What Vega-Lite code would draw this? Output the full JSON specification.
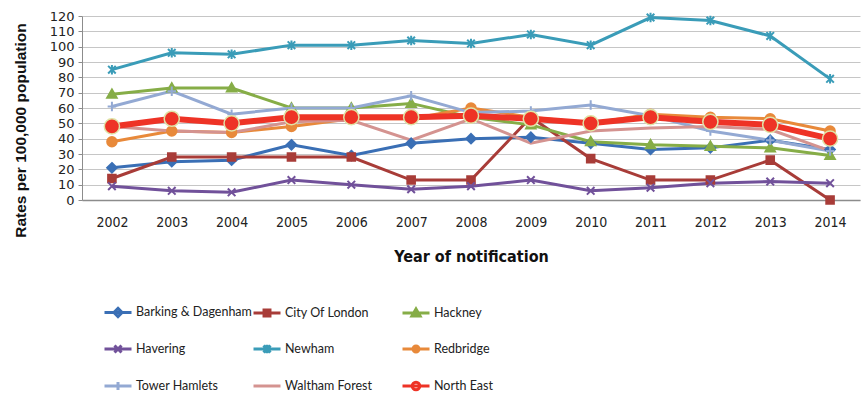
{
  "$schema": "https://vega.github.io/schema/vega-lite/v6.json",
  "width": 778,
  "height": 184,
  "autosize": {"type": "none"},
  "padding": {"left": 82, "top": 16, "right": 4, "bottom": 194},
  "background": "white",
  "config": {"view": {"stroke": null}},
  "data": {
    "values": [
      {"year": 2002, "area": "Barking & Dagenham", "rate": 21},
      {"year": 2003, "area": "Barking & Dagenham", "rate": 25},
      {"year": 2004, "area": "Barking & Dagenham", "rate": 26},
      {"year": 2005, "area": "Barking & Dagenham", "rate": 36},
      {"year": 2006, "area": "Barking & Dagenham", "rate": 29},
      {"year": 2007, "area": "Barking & Dagenham", "rate": 37},
      {"year": 2008, "area": "Barking & Dagenham", "rate": 40},
      {"year": 2009, "area": "Barking & Dagenham", "rate": 41},
      {"year": 2010, "area": "Barking & Dagenham", "rate": 37},
      {"year": 2011, "area": "Barking & Dagenham", "rate": 33},
      {"year": 2012, "area": "Barking & Dagenham", "rate": 34},
      {"year": 2013, "area": "Barking & Dagenham", "rate": 39},
      {"year": 2014, "area": "Barking & Dagenham", "rate": 33},
      {"year": 2002, "area": "City Of London", "rate": 14},
      {"year": 2003, "area": "City Of London", "rate": 28},
      {"year": 2004, "area": "City Of London", "rate": 28},
      {"year": 2005, "area": "City Of London", "rate": 28},
      {"year": 2006, "area": "City Of London", "rate": 28},
      {"year": 2007, "area": "City Of London", "rate": 13},
      {"year": 2008, "area": "City Of London", "rate": 13},
      {"year": 2009, "area": "City Of London", "rate": 54},
      {"year": 2010, "area": "City Of London", "rate": 27},
      {"year": 2011, "area": "City Of London", "rate": 13},
      {"year": 2012, "area": "City Of London", "rate": 13},
      {"year": 2013, "area": "City Of London", "rate": 26},
      {"year": 2014, "area": "City Of London", "rate": 0},
      {"year": 2002, "area": "Hackney", "rate": 69},
      {"year": 2003, "area": "Hackney", "rate": 73},
      {"year": 2004, "area": "Hackney", "rate": 73},
      {"year": 2005, "area": "Hackney", "rate": 60},
      {"year": 2006, "area": "Hackney", "rate": 60},
      {"year": 2007, "area": "Hackney", "rate": 63},
      {"year": 2008, "area": "Hackney", "rate": 54},
      {"year": 2009, "area": "Hackney", "rate": 49},
      {"year": 2010, "area": "Hackney", "rate": 38},
      {"year": 2011, "area": "Hackney", "rate": 36},
      {"year": 2012, "area": "Hackney", "rate": 35},
      {"year": 2013, "area": "Hackney", "rate": 34},
      {"year": 2014, "area": "Hackney", "rate": 29},
      {"year": 2002, "area": "Havering", "rate": 9},
      {"year": 2003, "area": "Havering", "rate": 6},
      {"year": 2004, "area": "Havering", "rate": 5},
      {"year": 2005, "area": "Havering", "rate": 13},
      {"year": 2006, "area": "Havering", "rate": 10},
      {"year": 2007, "area": "Havering", "rate": 7},
      {"year": 2008, "area": "Havering", "rate": 9},
      {"year": 2009, "area": "Havering", "rate": 13},
      {"year": 2010, "area": "Havering", "rate": 6},
      {"year": 2011, "area": "Havering", "rate": 8},
      {"year": 2012, "area": "Havering", "rate": 11},
      {"year": 2013, "area": "Havering", "rate": 12},
      {"year": 2014, "area": "Havering", "rate": 11},
      {"year": 2002, "area": "Newham", "rate": 85},
      {"year": 2003, "area": "Newham", "rate": 96},
      {"year": 2004, "area": "Newham", "rate": 95},
      {"year": 2005, "area": "Newham", "rate": 101},
      {"year": 2006, "area": "Newham", "rate": 101},
      {"year": 2007, "area": "Newham", "rate": 104},
      {"year": 2008, "area": "Newham", "rate": 102},
      {"year": 2009, "area": "Newham", "rate": 108},
      {"year": 2010, "area": "Newham", "rate": 101},
      {"year": 2011, "area": "Newham", "rate": 119},
      {"year": 2012, "area": "Newham", "rate": 117},
      {"year": 2013, "area": "Newham", "rate": 107},
      {"year": 2014, "area": "Newham", "rate": 79},
      {"year": 2002, "area": "Redbridge", "rate": 38},
      {"year": 2003, "area": "Redbridge", "rate": 45},
      {"year": 2004, "area": "Redbridge", "rate": 44},
      {"year": 2005, "area": "Redbridge", "rate": 48},
      {"year": 2006, "area": "Redbridge", "rate": 53},
      {"year": 2007, "area": "Redbridge", "rate": 53},
      {"year": 2008, "area": "Redbridge", "rate": 60},
      {"year": 2009, "area": "Redbridge", "rate": 54},
      {"year": 2010, "area": "Redbridge", "rate": 50},
      {"year": 2011, "area": "Redbridge", "rate": 56},
      {"year": 2012, "area": "Redbridge", "rate": 54},
      {"year": 2013, "area": "Redbridge", "rate": 53},
      {"year": 2014, "area": "Redbridge", "rate": 45},
      {"year": 2002, "area": "Tower Hamlets", "rate": 61},
      {"year": 2003, "area": "Tower Hamlets", "rate": 71},
      {"year": 2004, "area": "Tower Hamlets", "rate": 56},
      {"year": 2005, "area": "Tower Hamlets", "rate": 60},
      {"year": 2006, "area": "Tower Hamlets", "rate": 60},
      {"year": 2007, "area": "Tower Hamlets", "rate": 68},
      {"year": 2008, "area": "Tower Hamlets", "rate": 57},
      {"year": 2009, "area": "Tower Hamlets", "rate": 58},
      {"year": 2010, "area": "Tower Hamlets", "rate": 62},
      {"year": 2011, "area": "Tower Hamlets", "rate": 55},
      {"year": 2012, "area": "Tower Hamlets", "rate": 45},
      {"year": 2013, "area": "Tower Hamlets", "rate": 39},
      {"year": 2014, "area": "Tower Hamlets", "rate": 32},
      {"year": 2002, "area": "Waltham Forest", "rate": 48},
      {"year": 2003, "area": "Waltham Forest", "rate": 45},
      {"year": 2004, "area": "Waltham Forest", "rate": 44},
      {"year": 2005, "area": "Waltham Forest", "rate": 51},
      {"year": 2006, "area": "Waltham Forest", "rate": 52},
      {"year": 2007, "area": "Waltham Forest", "rate": 39},
      {"year": 2008, "area": "Waltham Forest", "rate": 53},
      {"year": 2009, "area": "Waltham Forest", "rate": 37},
      {"year": 2010, "area": "Waltham Forest", "rate": 45},
      {"year": 2011, "area": "Waltham Forest", "rate": 47},
      {"year": 2012, "area": "Waltham Forest", "rate": 48},
      {"year": 2013, "area": "Waltham Forest", "rate": 46},
      {"year": 2014, "area": "Waltham Forest", "rate": 32},
      {"year": 2002, "area": "North East", "rate": 48},
      {"year": 2003, "area": "North East", "rate": 53},
      {"year": 2004, "area": "North East", "rate": 50},
      {"year": 2005, "area": "North East", "rate": 54},
      {"year": 2006, "area": "North East", "rate": 54},
      {"year": 2007, "area": "North East", "rate": 54},
      {"year": 2008, "area": "North East", "rate": 55},
      {"year": 2009, "area": "North East", "rate": 53},
      {"year": 2010, "area": "North East", "rate": 50},
      {"year": 2011, "area": "North East", "rate": 54},
      {"year": 2012, "area": "North East", "rate": 51},
      {"year": 2013, "area": "North East", "rate": 49},
      {"year": 2014, "area": "North East", "rate": 40}
    ]
  },
  "encoding": {
    "x": {
      "field": "year",
      "type": "ordinal",
      "scale": {"type": "point", "padding": 0.5},
      "axis": {
        "title": "Year of notification",
        "labelAngle": 0,
        "ticks": false,
        "grid": false,
        "domainColor": "#8c8c8c",
        "domainWidth": 1.5,
        "labelFont": "DejaVu Sans Condensed",
        "labelFontSize": 14,
        "labelColor": "#222222",
        "labelPadding": 15,
        "titleFont": "DejaVu Sans Condensed",
        "titleFontSize": 16,
        "titleFontWeight": "bold",
        "titleColor": "#111111",
        "titleY": 56,
        "titleBaseline": "middle"
      }
    },
    "y": {
      "field": "rate",
      "type": "quantitative",
      "scale": {"domain": [0, 120], "nice": false},
      "axis": {
        "title": "Rates per 100,000 population",
        "values": [0, 10, 20, 30, 40, 50, 60, 70, 80, 90, 100, 110, 120],
        "grid": true,
        "gridColor": "#c6c6c6",
        "gridWidth": 1,
        "domainColor": "#8c8c8c",
        "tickColor": "#8c8c8c",
        "tickSize": 4,
        "labelFont": "DejaVu Sans",
        "labelFontSize": 13,
        "labelColor": "#222222",
        "labelPadding": 4,
        "titleFont": "Liberation Sans",
        "titleFontSize": 15.5,
        "titleFontWeight": "bold",
        "titleColor": "#111111",
        "titleAngle": -90,
        "titleX": -62,
        "titleY": 114,
        "titleAlign": "center",
        "titleBaseline": "middle"
      }
    }
  },
  "resolve": {"scale": {"color": "independent", "shape": "independent", "fill": "independent"}},
  "layer": [
    {
      "transform": [{"filter": "datum.area !== 'North East'"}],
      "mark": {"type": "line", "strokeWidth": 3},
      "encoding": {
        "color": {
          "field": "area",
          "type": "nominal",
          "legend": null,
          "scale": {
            "domain": ["Barking & Dagenham", "City Of London", "Hackney", "Havering", "Newham", "Redbridge", "Tower Hamlets", "Waltham Forest", "North East"],
            "range": ["#3a6fb5", "#a83c38", "#86ad47", "#71519a", "#3a9cb8", "#e8893a", "#93a9d3", "#d49390", "#ee3326"]
          }
        }
      }
    },
    {
      "transform": [{"filter": "datum.area !== 'North East'"}],
      "mark": {"type": "point", "filled": false, "strokeWidth": 2, "size": 90, "opacity": 1},
      "encoding": {
        "color": {
          "field": "area",
          "type": "nominal",
          "legend": null,
          "scale": {
            "domain": ["Barking & Dagenham", "City Of London", "Hackney", "Havering", "Newham", "Redbridge", "Tower Hamlets", "Waltham Forest", "North East"],
            "range": ["#3a6fb5", "#a83c38", "#86ad47", "#71519a", "#3a9cb8", "#e8893a", "#93a9d3", "#d49390", "#ee3326"]
          }
        },
        "fill": {
          "field": "area",
          "type": "nominal",
          "legend": null,
          "scale": {
            "domain": ["Barking & Dagenham", "City Of London", "Hackney", "Havering", "Newham", "Redbridge", "Tower Hamlets", "Waltham Forest", "North East"],
            "range": ["#3a6fb5", "#a83c38", "#86ad47", "#71519a", "#3a9cb8", "#e8893a", "#93a9d3", "#d49390", "#ee3326"]
          }
        },
        "shape": {
          "field": "area",
          "type": "nominal",
          "legend": null,
          "scale": {
            "domain": ["Barking & Dagenham", "City Of London", "Hackney", "Havering", "Newham", "Redbridge", "Tower Hamlets", "Waltham Forest", "North East"],
            "range": [
              "M0,-1L1,0L0,1L-1,0Z",
              "M-0.8,-0.8H0.8V0.8H-0.8Z",
              "M0,-1L1,0.75H-1Z",
              "M-0.8,-0.8L0.8,0.8M-0.8,0.8L0.8,-0.8",
              "M-0.8,-0.8L0.8,0.8M-0.8,0.8L0.8,-0.8M0,-1V1",
              "circle",
              "M-0.9,0H0.9M0,-1V1",
              "M0,0",
              "circle"
            ]
          }
        }
      }
    },
    {
      "transform": [{"filter": "datum.area === 'North East'"}],
      "mark": {"type": "line", "strokeWidth": 6, "color": "#ee3326"},
      "encoding": {}
    },
    {
      "transform": [{"filter": "datum.area === 'North East'"}],
      "mark": {"type": "point", "shape": "circle", "size": 230, "filled": true, "fill": "#ee3326", "stroke": "#dfe3a6", "strokeWidth": 1.5, "opacity": 1},
      "encoding": {}
    },
    {
      "mark": {"type": "point", "filled": false, "opacity": 0, "strokeWidth": 3, "size": 729},
      "encoding": {
        "color": {
          "field": "area",
          "type": "nominal",
          "scale": {
            "domain": ["Barking & Dagenham", "City Of London", "Hackney", "Havering", "Newham", "Redbridge", "Tower Hamlets", "Waltham Forest", "North East"],
            "range": ["#3a6fb5", "#a83c38", "#86ad47", "#71519a", "#3a9cb8", "#e8893a", "#93a9d3", "#d49390", "#ee3326"]
          },
          "legend": {
            "title": null,
            "orient": "none",
            "direction": "horizontal",
            "legendX": 21,
            "legendY": 281,
            "columns": 3,
            "gridAlign": "all",
            "columnPadding": -7,
            "rowPadding": 11,
            "padding": 0,
            "symbolSize": 729,
            "symbolStrokeWidth": 3,
            "symbolOpacity": 1,
            "labelFont": "Lato",
            "labelFontSize": 12.5,
            "labelColor": "#222222",
            "labelOffset": 3,
            "labelLimit": 300
          }
        },
        "shape": {
          "field": "area",
          "type": "nominal",
          "scale": {
            "domain": ["Barking & Dagenham", "City Of London", "Hackney", "Havering", "Newham", "Redbridge", "Tower Hamlets", "Waltham Forest", "North East"],
            "range": [
              "M-1,0H1M0,-0.3L0.3,0L0,0.3L-0.3,0Z",
              "M-1,0H1M-0.22,-0.22H0.22V0.22H-0.22Z",
              "M-1,0H1M0,-0.3L0.3,0.22H-0.3Z",
              "M-1,0H1M-0.26,-0.26L0.26,0.26M-0.26,0.26L0.26,-0.26",
              "M-1,0H1M-0.26,-0.26L0.26,0.26M-0.26,0.26L0.26,-0.26M0,-0.32V0.32",
              "M-1,0H1M-0.22,0A0.22,0.22,0,1,1,0.22,0A0.22,0.22,0,1,1,-0.22,0Z",
              "M-1,0H1M0,-0.3V0.3",
              "M-1,0H1",
              "M-1,0H1M-0.28,0A0.28,0.28,0,1,1,0.28,0A0.28,0.28,0,1,1,-0.28,0Z"
            ]
          },
          "legend": {
            "title": null,
            "orient": "none",
            "direction": "horizontal",
            "legendX": 21,
            "legendY": 281,
            "columns": 3,
            "gridAlign": "all",
            "columnPadding": -7,
            "rowPadding": 11,
            "padding": 0,
            "symbolSize": 729,
            "symbolStrokeWidth": 3,
            "symbolOpacity": 1,
            "labelFont": "Lato",
            "labelFontSize": 12.5,
            "labelColor": "#222222",
            "labelOffset": 3,
            "labelLimit": 300
          }
        }
      }
    }
  ]
}
